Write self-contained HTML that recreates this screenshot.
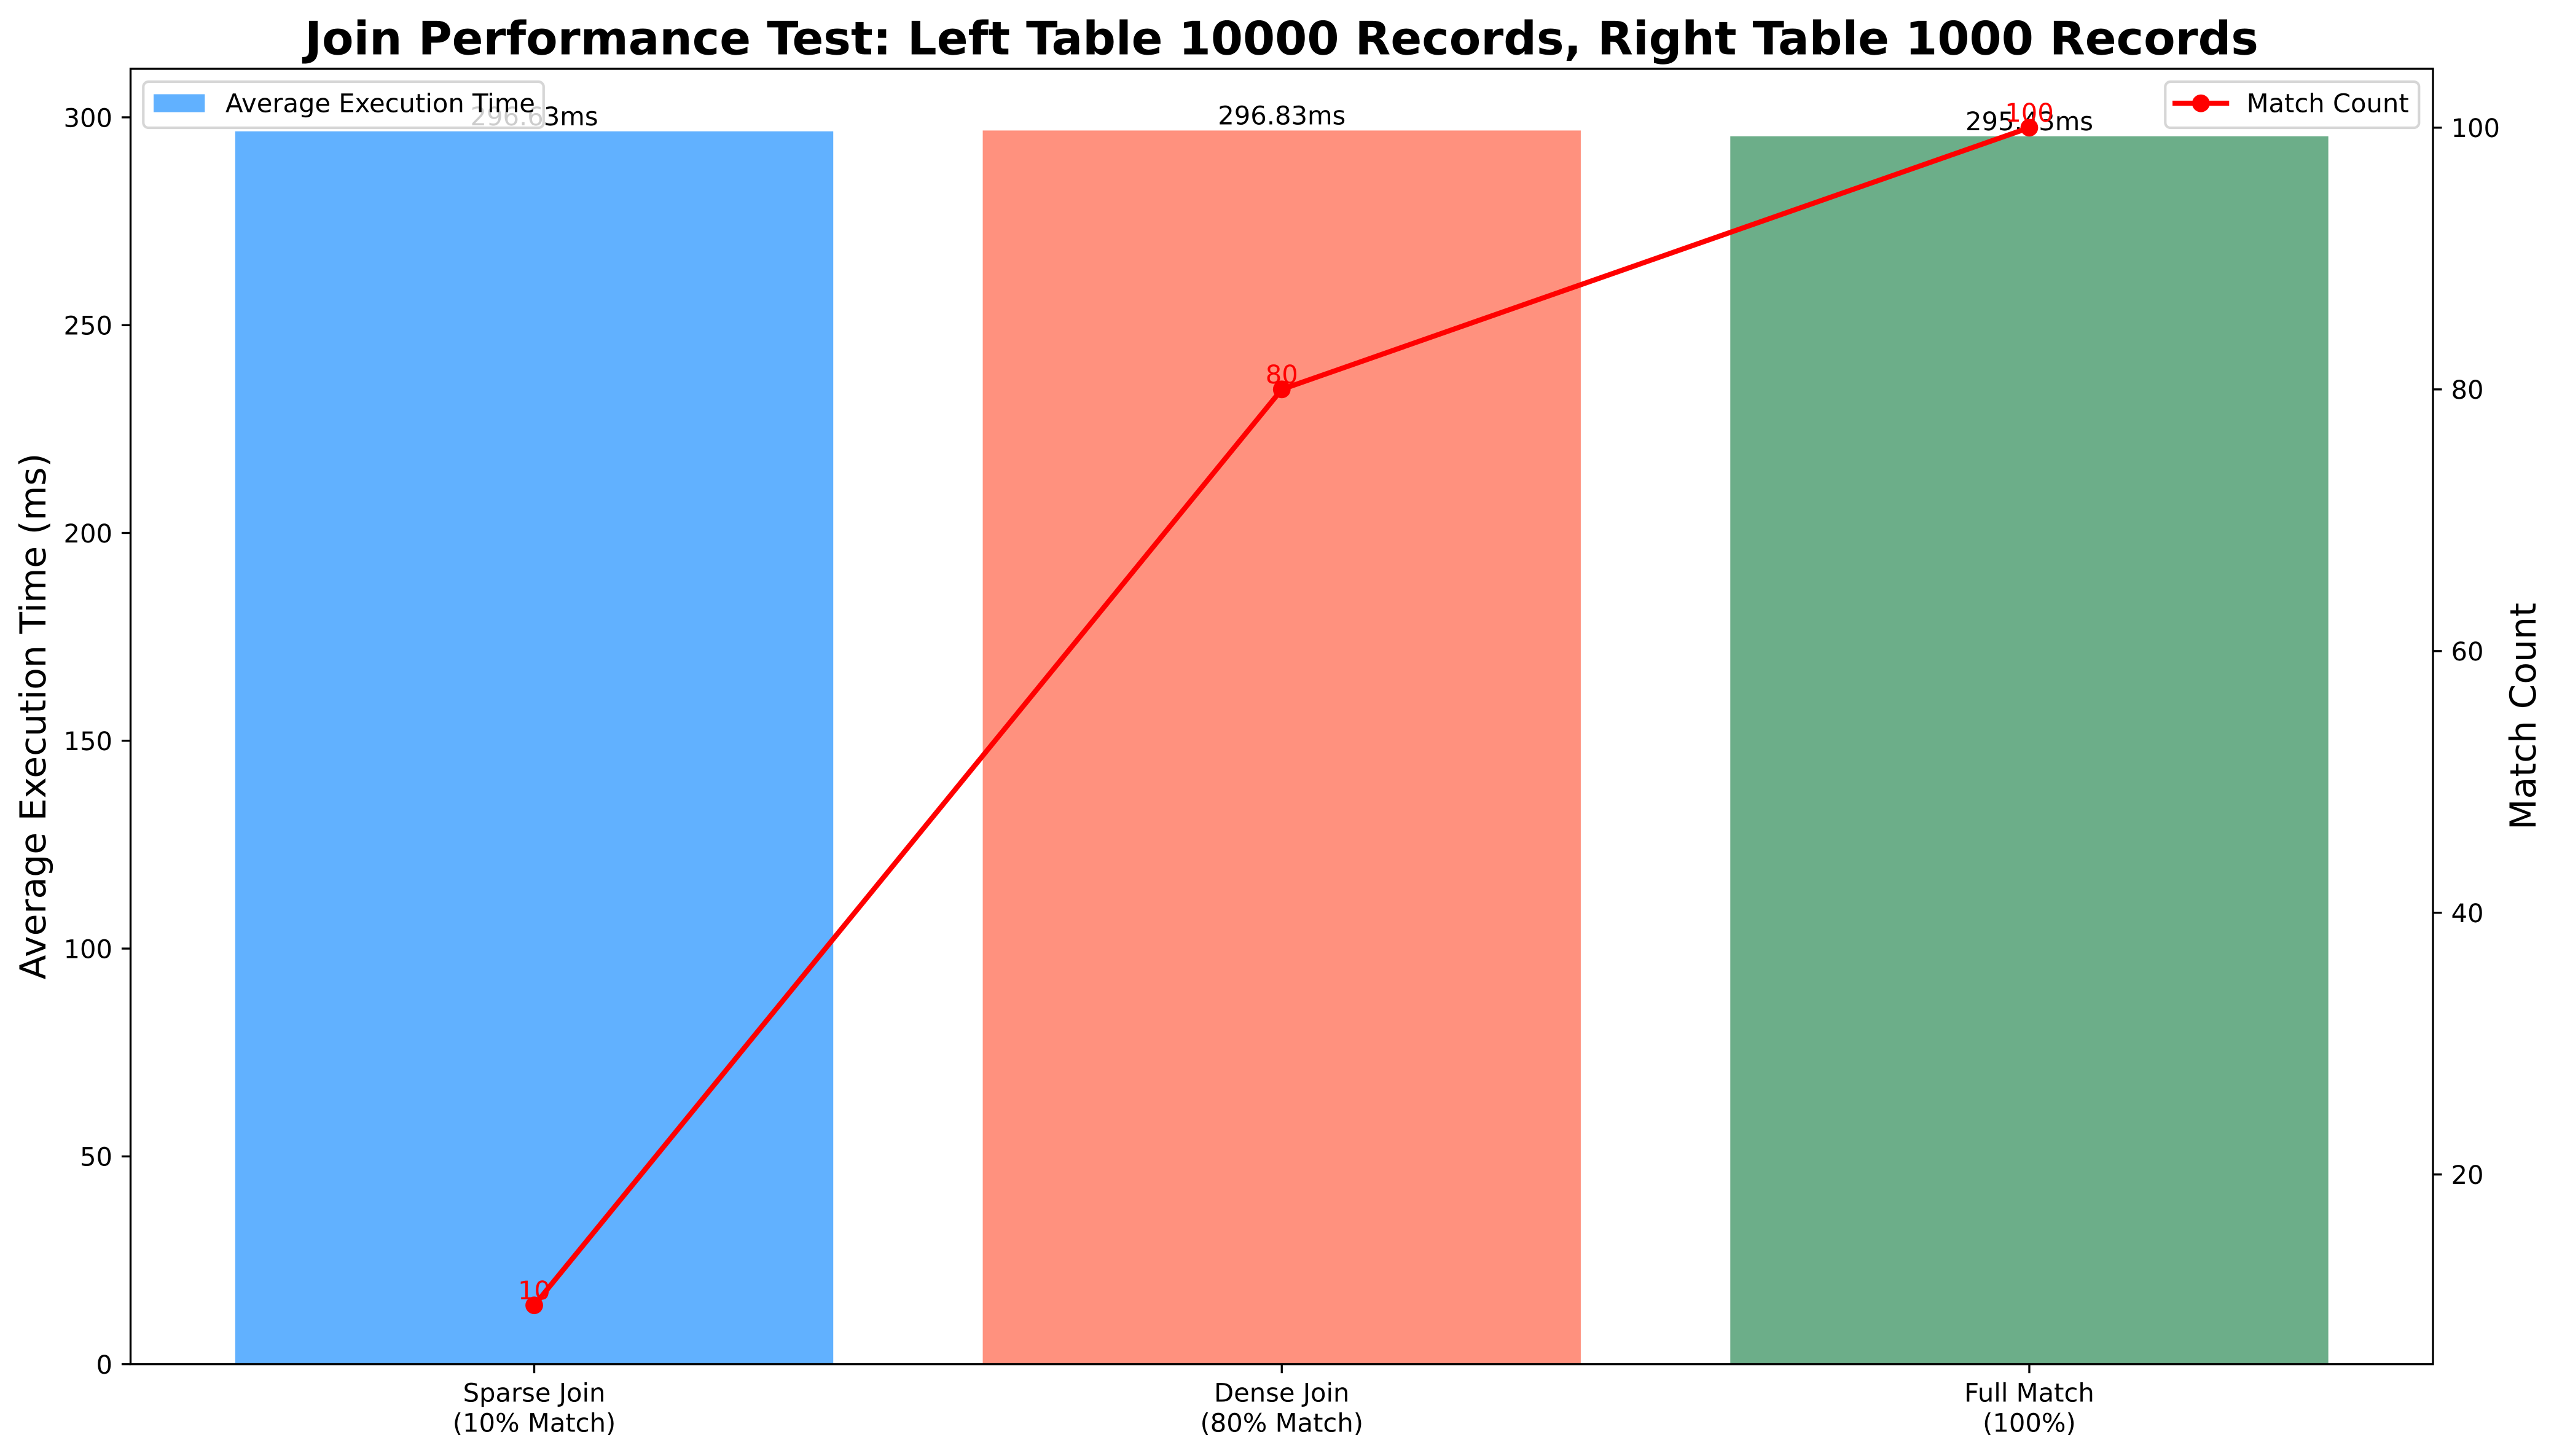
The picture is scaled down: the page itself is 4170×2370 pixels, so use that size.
<!DOCTYPE html>
<html lang="en">
<head>
<meta charset="utf-8">
<title>Join Performance Test</title>
<style>
html,body{margin:0;padding:0;background:#fff;width:4170px;height:2370px;overflow:hidden}
svg{display:block}
text{font-family:"DejaVu Sans","Liberation Sans",sans-serif;text-rendering:geometricPrecision;fill:#000}
</style>
</head>
<body>
<svg id="chart" xmlns="http://www.w3.org/2000/svg" width="4170" height="2370" viewBox="0 0 4170 2370">
<rect x="0" y="0" width="4170" height="2370" fill="#fff"/>
<text x="2086" y="88.5" text-anchor="middle" font-size="75" font-weight="700">Join Performance Test: Left Table 10000 Records, Right Table 1000 Records</text>
<text transform="translate(74 1166) rotate(-90)" text-anchor="middle" font-size="58.33">Average Execution Time (ms)</text>
<text transform="translate(4127 1166) rotate(-90)" text-anchor="middle" font-size="58.33">Match Count</text>
<g id="primary"></g>
<g id="secondary"></g>
</svg>
<script>
const categories = [["Sparse Join", "(10% Match)"], ["Dense Join", "(80% Match)"], ["Full Match", "(100%)"]];
const executionTimes = [296.63, 296.83, 295.43];
const matchCounts = [10, 80, 100];
const barColors = ["#1E90FF", "#FF6347", "#2E8B57"];
const yTicks = [0, 50, 100, 150, 200, 250, 300];
const y2Ticks = [20, 40, 60, 80, 100];

const NS = "http://www.w3.org/2000/svg";
const plot = { left: 212.5, right: 3960, top: 112, bottom: 2220.6 };

const yMax = Math.max(...executionTimes) * 1.05;
const y2Span = Math.max(...matchCounts) - Math.min(...matchCounts);
const y2Min = Math.min(...matchCounts) - y2Span * 0.05;
const y2Max = Math.max(...matchCounts) + y2Span * 0.05;
const xMin = -0.54, xMax = categories.length - 1 + 0.54;

function xScale(v) { return plot.left + (v - xMin) / (xMax - xMin) * (plot.right - plot.left); }
function yScale(v) { return plot.bottom - v / yMax * (plot.bottom - plot.top); }
function y2Scale(v) { return plot.bottom - (v - y2Min) / (y2Max - y2Min) * (plot.bottom - plot.top); }

function make(parent, tag, attrs, content) {
  const el = document.createElementNS(NS, tag);
  for (const k in attrs) el.setAttribute(k, attrs[k]);
  if (content !== undefined) el.textContent = content;
  parent.appendChild(el);
  return el;
}

const primary = document.getElementById("primary");
const secondary = document.getElementById("secondary");
const tickStroke = { stroke: "#000", "stroke-width": 3.33 };
let el;

// Bars
executionTimes.forEach((v, i) => {
  el = make(primary, "rect", { x: xScale(i - 0.4), y: yScale(v), width: xScale(i + 0.4) - xScale(i - 0.4), height: plot.bottom - yScale(v), fill: barColors[i], "fill-opacity": 0.7 });
  
  
});

// Bar value labels
executionTimes.forEach((v, i) => {
  el = make(primary, "text", { x: xScale(i), y: yScale(v) - 9.7, "text-anchor": "middle", "font-size": 41.67 }, v.toFixed(2) + "ms");
  
  
});

// X ticks and labels
categories.forEach((lines, i) => {
  el = make(primary, "line", Object.assign({ x1: xScale(i), x2: xScale(i), y1: plot.bottom, y2: plot.bottom + 14.58 }, tickStroke));
  
  
  lines.forEach((line, j) => {
    el = make(primary, "text", { x: xScale(i), y: 2281.7 + j * 48.9, "text-anchor": "middle", "font-size": 41.67 }, line);
    
    
  });
});

// Left ticks
yTicks.forEach(t => {
  el = make(primary, "line", Object.assign({ x1: plot.left - 14.58, x2: plot.left, y1: yScale(t), y2: yScale(t) }, tickStroke));
  
  
  el = make(primary, "text", { x: 183, y: yScale(t) + 15.4, "text-anchor": "end", "font-size": 41.67 }, String(t));
  
  
});

// Primary spines
el = make(primary, "rect", { x: plot.left, y: plot.top, width: plot.right - plot.left, height: plot.bottom - plot.top, fill: "none", stroke: "#000", "stroke-width": 3.33 });



// Primary legend
const leg1 = make(primary, "g", {});


el = make(leg1, "rect", { x: 233.3, y: 133, width: 651.5, height: 75, rx: 8.33, ry: 8.33, fill: "#fff", "fill-opacity": 0.8, stroke: "#ccc", "stroke-opacity": 0.8, "stroke-width": 4.17 });


el = make(leg1, "rect", { x: 250, y: 153.4, width: 83.33, height: 29.17, fill: barColors[0], "fill-opacity": 0.7 });


el = make(leg1, "text", { x: 367, y: 182.6, "font-size": 41.67 }, "Average Execution Time");



// Right ticks
y2Ticks.forEach(t => {
  el = make(secondary, "line", Object.assign({ x1: plot.right, x2: plot.right + 14.58, y1: y2Scale(t), y2: y2Scale(t) }, tickStroke));
  
  
  el = make(secondary, "text", { x: 3989.5, y: y2Scale(t) + 15.4, "font-size": 41.67 }, String(t));
  
  
});

// Match count line
el = make(secondary, "polyline", { points: matchCounts.map((v, i) => xScale(i) + "," + y2Scale(v)).join(" "), fill: "none", stroke: "#f00", "stroke-width": 8.33, "stroke-linejoin": "round", "stroke-linecap": "square" });



// Markers
matchCounts.forEach((v, i) => {
  el = make(secondary, "circle", { cx: xScale(i), cy: y2Scale(v), r: 14.4, fill: "#f00" });
  
  
});

// Match count value labels
matchCounts.forEach((v, i) => {
  el = make(secondary, "text", { x: xScale(i), y: y2Scale(v) - 9.9, "text-anchor": "middle", "font-size": 41.67, style: "fill:#f00" }, String(v));
  
  
});

// Secondary legend
const leg2 = make(secondary, "g", {});


el = make(leg2, "rect", { x: 3524.3, y: 133, width: 413, height: 75, rx: 8.33, ry: 8.33, fill: "#fff", "fill-opacity": 0.8, stroke: "#ccc", "stroke-opacity": 0.8, "stroke-width": 4.17 });


el = make(leg2, "line", { x1: 3540.2, x2: 3624.1, y1: 168, y2: 168, stroke: "#f00", "stroke-width": 8.33, "stroke-linecap": "square" });


el = make(leg2, "circle", { cx: 3582.3, cy: 168.2, r: 14.4, fill: "#f00" });


el = make(leg2, "text", { x: 3656.6, y: 182.6, "font-size": 41.67 }, "Match Count");


</script>
</body>
</html>
